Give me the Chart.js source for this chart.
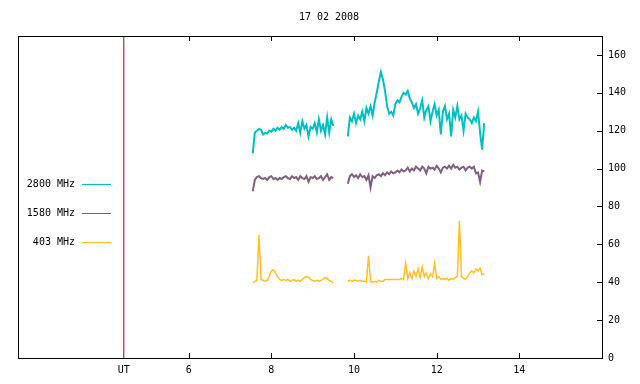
<!DOCTYPE html>
<html>
<head>
<meta charset="utf-8">
<script src="https://cdn.jsdelivr.net/npm/chart.js@4"></script>
<style>
  body { margin: 0; background: #fff; }
</style>
</head>
<body>
<canvas id="grafico" width="640" height="384"></canvas>
<script>
// tempos (horas UT) dos dois trechos
const times1 = [7.55, 7.60, 7.65, 7.70, 7.75, 7.80, 7.85, 7.90, 7.95, 8.00,
  8.05, 8.10, 8.15, 8.20, 8.25, 8.30, 8.35, 8.40, 8.45, 8.50,
  8.55, 8.60, 8.65, 8.70, 8.75, 8.80, 8.85, 8.90, 8.95, 9.00,
  9.05, 9.10, 9.15, 9.20, 9.25, 9.30, 9.35, 9.40, 9.45, 9.50];
const times2 = [9.85, 9.90, 9.95, 10.00, 10.05, 10.10, 10.15, 10.20, 10.25, 10.30,
  10.35, 10.40, 10.45, 10.50, 10.55, 10.60, 10.65, 10.70, 10.75, 10.80,
  10.85, 10.90, 10.95, 11.00, 11.05, 11.10, 11.15, 11.20, 11.25, 11.30,
  11.35, 11.40, 11.45, 11.50, 11.55, 11.60, 11.65, 11.70, 11.75, 11.80,
  11.85, 11.90, 11.95, 12.00, 12.05, 12.10, 12.15, 12.20, 12.25, 12.30,
  12.35, 12.40, 12.45, 12.50, 12.55, 12.60, 12.65, 12.70, 12.75, 12.80,
  12.85, 12.90, 12.95, 13.00, 13.05, 13.10, 13.15];

// 2800 MHz
const f2800a = [108, 119, 120, 121, 120.5, 118, 119, 118.5, 120, 119.5,
  121, 120, 121.5, 120.5, 122, 121, 123, 121.5, 122, 120.5,
  121.5, 120, 124, 119, 125, 121, 123, 117, 122, 121,
  124, 119, 126, 120, 123, 118, 127, 119, 126, 122.5];
const f2800b = [117, 127, 125, 129, 124, 128, 126, 130, 125, 132,
  129, 133, 128, 135, 140, 146, 151, 147, 141, 133,
  129, 130, 128, 134, 136, 135, 138, 140, 139, 141,
  137, 135, 132, 134, 129, 132, 136, 127, 131, 133,
  125, 130, 134, 128, 131, 118, 130, 133, 126, 129,
  117, 131, 127, 133, 126, 128, 120, 129, 127, 126,
  124, 127, 125, 130, 119, 110, 124];

// 1580 MHz
const f1580a = [88, 94, 95.5, 96, 95, 94.5, 95, 94, 95.5, 96,
  94.5, 95, 94, 95, 94.5, 95.5, 96, 95, 94.5, 96,
  95, 95.5, 94, 96, 95, 94.5, 96, 93, 95.5, 95,
  96, 94.5, 95, 96, 94, 95.5, 97, 94, 95.5, 95];
const f1580b = [92, 96, 97, 95.5, 96.5, 95, 97, 95.5, 96, 94,
  96.5, 90, 96, 95, 96.5, 97, 96, 97.5, 96.5, 98,
  97, 98.5, 97.5, 98, 99, 98, 99.5, 98.5, 99, 100.5,
  98.5, 100, 99, 101, 100, 99, 101, 100, 97.5, 101,
  100, 100.5, 99.5, 101.5, 100, 98, 100.5, 101, 100, 101.5,
  100, 102, 100.5, 101, 99.5, 100.5, 101, 99, 100.5, 101,
  100, 101, 97.5, 98, 93, 99, 98.5];

// 403 MHz
const f403a = [39.5, 40.5, 41, 65, 41.5, 41, 40.5, 41, 43, 46,
  46.5, 45, 43, 41.5, 41, 41.5, 41, 41.5, 40.5, 41,
  41.5, 40.5, 41, 40.5, 41.5, 42.5, 43, 42.5, 41.5, 41,
  40.5, 41, 40.5, 41, 41.5, 42.5, 42, 41, 40.5, 39.5];
const f403b = [40.5, 41, 40.5, 41, 41, 40.5, 41, 40.5, 40.5, 40,
  54, 40.5, 40, 40.5, 40, 41, 40.5, 40.5, 41.5, 41.5,
  41.5, 41.5, 41.5, 41.5, 41.5, 41.5, 42, 41.5, 50, 42,
  45, 42, 46, 43, 47, 42.5, 48, 43, 45, 42,
  44.5, 43, 50, 42, 43, 41.5, 42, 41.5, 42, 41,
  42, 41.5, 42.5, 43, 72.5, 43, 42, 41.5, 43, 45,
  46, 45, 47, 46, 47.5, 44, 44.5];

const utMark = 4.43;
const xTicks = [6, 8, 10, 12, 14];
const yTicks = [0, 20, 40, 60, 80, 100, 120, 140, 160];
const fonte = { family: 'DejaVu Sans Mono', size: 10, weight: 'normal' };

function juntar(a, b) {
  return times1.map((t, i) => ({ x: t, y: a[i] }))
    .concat([{ x: 9.7, y: null }], times2.map((t, i) => ({ x: t, y: b[i] })));
}

// moldura, ticks para dentro e legenda à esquerda (estilo gnuplot)
const moldura = {
  id: 'moldura',
  afterDatasetsDraw(chart) {
    const { ctx, chartArea: a, scales } = chart;
    ctx.save();
    ctx.strokeStyle = '#000';
    ctx.lineWidth = 1;
    ctx.strokeRect(Math.round(a.left) + 0.5, Math.round(a.top) + 0.5,
      Math.round(a.right - a.left), Math.round(a.bottom - a.top));
    ctx.beginPath();
    xTicks.forEach(v => {
      const px = Math.round(scales.x.getPixelForValue(v)) + 0.5;
      ctx.moveTo(px, a.bottom); ctx.lineTo(px, a.bottom - 5);
      ctx.moveTo(px, a.top); ctx.lineTo(px, a.top + 5);
    });
    yTicks.forEach(v => {
      const py = Math.round(scales.y.getPixelForValue(v)) + 0.5;
      ctx.moveTo(a.right, py); ctx.lineTo(a.right - 5, py);
    });
    ctx.stroke();

    ctx.font = '10px "DejaVu Sans Mono"';
    ctx.textAlign = 'right';
    ctx.textBaseline = 'middle';
    const ys = [184, 213, 242];
    chart.data.datasets.filter(d => d.label).forEach((d, i) => {
      ctx.fillStyle = '#000';
      ctx.fillText(d.label, 75, ys[i]);
      ctx.strokeStyle = d.borderColor;
      ctx.lineWidth = 1;
      ctx.beginPath();
      ctx.moveTo(82, ys[i] + 0.5);
      ctx.lineTo(111, ys[i] + 0.5);
      ctx.stroke();
    });
    ctx.restore();
  }
};

const ctx = document.getElementById('grafico');
new Chart(ctx, {
  type: 'line',
  data: {
    datasets: [
      {
        label: '',
        data: [{ x: utMark, y: 0 }, { x: utMark, y: 170 }],
        borderColor: '#a00000',
        borderWidth: 1,
        pointRadius: 0
      },
      {
        label: '2800 MHz',
        data: juntar(f2800a, f2800b),
        borderColor: '#00c0c0',
        borderWidth: 2,
        pointRadius: 0,
        spanGaps: false
      },
      {
        label: '1580 MHz',
        data: juntar(f1580a, f1580b),
        borderColor: '#806080',
        borderWidth: 2,
        pointRadius: 0,
        spanGaps: false
      },
      {
        label: '403 MHz',
        data: juntar(f403a, f403b),
        borderColor: '#ffc020',
        borderWidth: 1.5,
        pointRadius: 0,
        spanGaps: false
      }
    ]
  },
  options: {
    responsive: false,
    animation: false,
    layout: { padding: { left: 18, right: 0, top: 0, bottom: 0 } },
    plugins: {
      legend: { display: false },
      tooltip: { enabled: false },
      title: {
        display: true,
        text: '17 02 2008',
        color: '#000',
        font: fonte,
        padding: { top: 11, bottom: 13 }
      }
    },
    scales: {
      x: {
        type: 'linear',
        min: 1.87,
        max: 16,
        grid: { display: false, drawTicks: false },
        border: { display: false },
        afterBuildTicks: s => { s.ticks = [utMark].concat(xTicks).map(v => ({ value: v })); },
        afterFit: s => { s.height = 26; },
        ticks: {
          color: '#000',
          font: fonte,
          padding: 6,
          maxRotation: 0,
          autoSkip: false,
          callback: v => (v === utMark ? 'UT' : v)
        }
      },
      y: {
        position: 'right',
        min: 0,
        max: 170,
        grid: { display: false, drawTicks: false },
        border: { display: false },
        afterBuildTicks: s => { s.ticks = yTicks.map(v => ({ value: v })); },
        afterFit: s => { s.width = 38; },
        ticks: { color: '#000', font: fonte, padding: 6 }
      }
    }
  },
  plugins: [moldura]
});
</script>
</body>
</html>
